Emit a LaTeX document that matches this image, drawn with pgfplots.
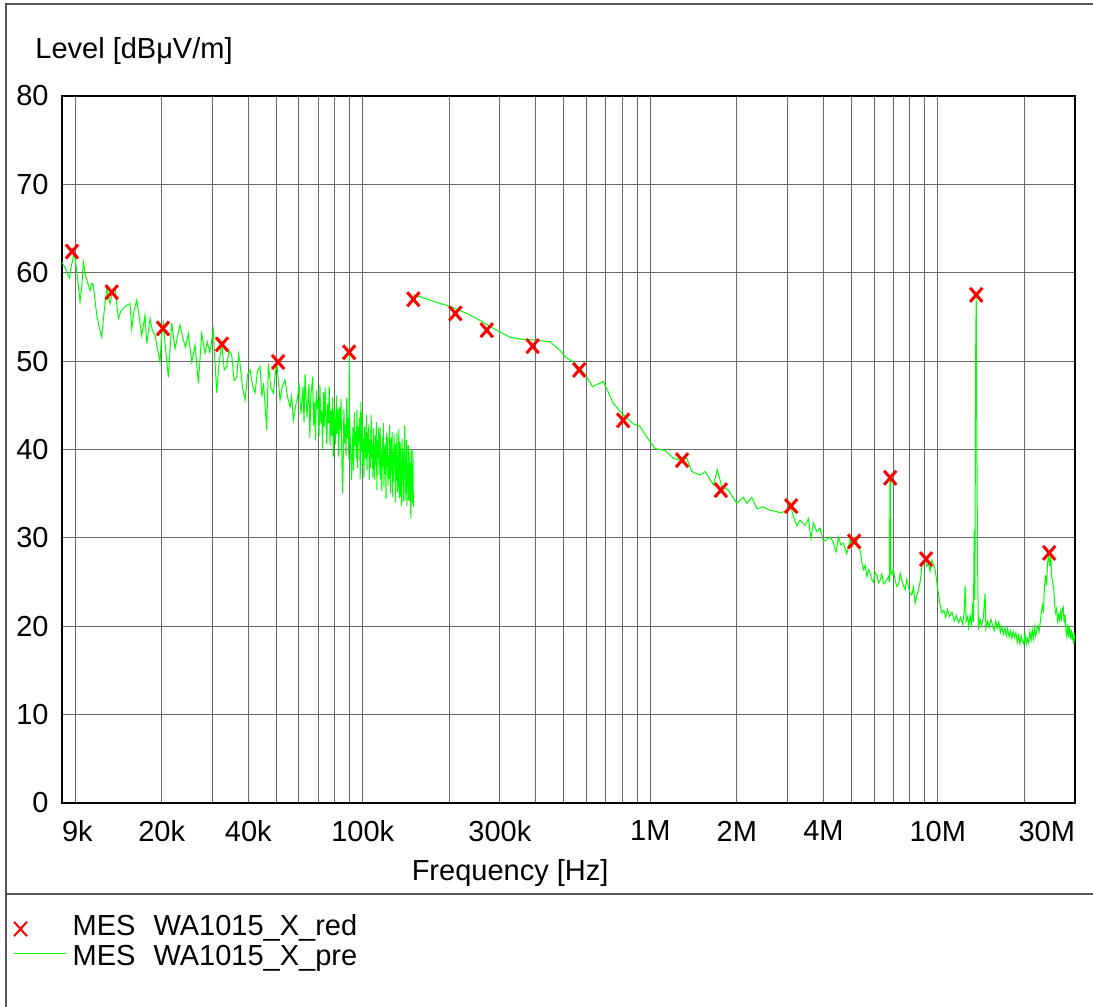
\documentclass[border=0pt]{standalone}
\usepackage{fontspec}
\setmainfont{Liberation Sans}
\usepackage{pgfplots}
\pgfplotsset{compat=1.18}
\definecolor{trace}{RGB}{0,255,0}
\definecolor{markc}{RGB}{255,0,0}
\definecolor{gridc}{RGB}{105,105,105}
\definecolor{framec}{RGB}{85,85,85}
\begin{document}
\fontsize{14.5}{17}\selectfont
\begin{tikzpicture}
\path[use as bounding box] (0,0) rectangle (546.5pt,503.5pt);
\draw[framec, line width=1pt] (3pt,0pt) -- (3pt,501.5pt) -- (546.5pt,501.5pt);
\draw[framec, line width=1pt] (3pt,56.5pt) -- (546.5pt,56.5pt);
\begin{axis}[
  at={(31pt,102pt)}, anchor=south west,
  scale only axis, width=506.5pt, height=353.5pt,
  xmode=log, xmin=9000, xmax=3e7, ymin=0, ymax=80,
  ytick={0,10,20,30,40,50,60,70,80},
  xtick={9000,20000,40000,100000,300000,1000000,2000000,4000000,10000000,30000000},
  xticklabels={\makebox[0pt][l]{9k},20k,40k,100k,300k,1M,2M,4M,10M,\makebox[0pt][r]{30M}},
  minor xtick={10000,20000,30000,40000,50000,60000,70000,80000,90000,
    100000,200000,300000,400000,500000,600000,700000,800000,900000,
    1000000,2000000,3000000,4000000,5000000,6000000,7000000,8000000,9000000,
    10000000,20000000},
  xminorgrids, ymajorgrids, xmajorgrids=false,
  major tick length=0pt, minor tick length=0pt,
  grid style={gridc, line width=0.5pt},
  minor grid style={gridc, line width=0.5pt},
  axis line style={black, line width=0.6pt},
  /pgf/number format/assume math mode=true,
  tick label style={font=\fontsize{14.5}{17}\selectfont},
  yticklabel style={inner sep=0pt, anchor=east, xshift=-6.5pt},
  xticklabel style={inner sep=0pt, anchor=north, yshift=-8.75pt},
  xlabel={Frequency [Hz]},
  xlabel style={at={(axis description cs:0.4423,0)}, anchor=north, inner sep=0pt, yshift=-28pt, font=\fontsize{14.5}{17}\selectfont},
  ylabel={Level [dBμV/m]},
  every axis y label/.style={at={(axis description cs:-0.02665,1.0537)}, anchor=base west, inner sep=0pt, font=\fontsize{14.5}{17}\selectfont},
  reverse legend,
  legend cell align=left,
  legend style={at={(axis description cs:-0.04837,-0.1556)}, anchor=north west,
    draw=none, fill=none, inner sep=0pt, outer sep=0pt,
    font=\fontsize{14.5}{17}\selectfont,
    nodes={inner sep=0pt, text height=11pt, text depth=4pt, anchor=west},
    column sep=3.35pt, row sep=0pt},
]
% band A 9 kHz - 150 kHz
\addplot[trace, line width=0.5pt, forget plot] coordinates {
(9000,61.2) (9250,60.5) (9542,59.4) (9700,60.8) (9932,62.2) (10150,60.0) (10396,56.7) (10550,58.5)
(10674,61.2) (10900,59.5) (11263,58.0) (11400,58.8) (11565,58.6) (11884,55.2) (12100,54.0) (12369,52.7)
(12600,55.5) (12874,58.2) (13050,57.3) (13219,56.5) (13435,57.7) (13759,58.4) (14128,54.8) (14400,55.6)
(14705,56.0) (15100,56.3) (15516,56.5) (15729,53.7) (16050,55.8) (16371,56.9) (16700,55.0) (17041,52.9)
(17497,55.2) (17736,52.0) (18212,54.8) (18550,53.5) (18955,52.9) (19300,51.5) (19730,49.9) (20000,53.0)
(20259,54.3) (20600,51.5) (21089,48.2) (21671,54.3) (22252,51.4) (22700,52.8) (23159,54.1) (23779,52.4)
(24200,51.6) (24750,53.1) (25434,49.9) (26116,51.8) (26816,47.5) (27555,53.1) (28293,50.9) (28800,52.2)
(29400,51.0) (30228,53.5) (31063,46.4) (31600,49.5) (32332,52.0) (33000,49.0) (33653,49.4) (34300,51.2)
(35029,50.7) (35700,47.8) (36462,48.2) (37000,50.8) (37439,49.7) (38200,47.0) (38971,45.6) (39800,48.5)
(40564,49.0) (41400,47.2) (42222,46.4) (43000,48.8) (43948,49.4) (44600,46.0) (45200,47.5) (46371,42.2)
(46968,49.7) (47900,47.0) (48884,46.4) (49600,48.4) (50234,50.1) (50800,48.0) (51579,45.6) (52600,47.2)
(53687,47.9) (54800,45.9) (55882,44.8) (56600,46.0) (57381,43.3) (58500,45.0) (59725,46.4)
(60.0e3,47.6) (61.0e3,44.0) (62.0e3,47.1) (62.5e3,43.1) (63.0e3,48.5) (64.0e3,43.7)
(65.0e3,47.4) (65.5e3,41.3) (66.0e3,46.0) (67.0e3,48.2) (67.5e3,42.7) (68.0e3,45.4) (68.5e3,41.0) (69.0e3,46.7) (69.5e3,44.6)
(70.0e3,45.6) (70.5e3,41.5) (71.0e3,47.3) (71.5e3,43.0) (72.0e3,44.4) (72.5e3,40.1) (73.0e3,46.5) (73.5e3,42.6) (74.0e3,47.0) (74.5e3,43.5)
(75.0e3,40.6) (75.5e3,45.2) (76.0e3,43.0) (76.5e3,47.1) (77.0e3,40.5) (77.5e3,44.4) (78.0e3,41.6) (78.5e3,45.9) (79.0e3,39.2) (79.5e3,44.6)
(80.0e3,43.2) (80.5e3,40.6) (81.0e3,46.1) (81.5e3,41.8) (82.0e3,44.6) (82.5e3,39.2) (83.0e3,44.8) (83.5e3,42.2) (84.0e3,45.7) (84.5e3,40.2)
(85.0e3,35.0) (85.5e3,38.1) (86.0e3,44.6) (86.5e3,40.7) (87.0e3,42.8) (87.5e3,39.3) (88.0e3,45.8) (88.5e3,41.3) (89.0e3,43.6) (89.5e3,38.8)
(89.7e3,42.5) (89.8e3,50.9) (89.9e3,41.8)
(90.0e3,43.7) (90.5e3,41.2) (91.0e3,39.0) (91.5e3,36.5) (92.0e3,39.8) (92.5e3,42.5) (93.0e3,37.6) (93.5e3,44.2) (94.0e3,40.4) (94.5e3,42.0)
(95.0e3,39.0) (95.5e3,44.5) (96.0e3,37.9) (96.5e3,42.6) (97.0e3,40.9) (97.5e3,43.6) (98.0e3,36.6) (98.5e3,45.4) (99.0e3,39.7) (99.5e3,44.2)
(100.0e3,38.2) (100.5e3,41.3) (101.0e3,36.8) (101.5e3,42.6) (102.0e3,40.5) (102.5e3,38.9) (103.0e3,43.9) (103.5e3,37.6) (104.0e3,41.9) (104.5e3,39.6)
(105.0e3,42.8) (105.5e3,36.6) (106.0e3,41.1) (106.5e3,37.9) (107.0e3,43.9) (107.5e3,39.0) (108.0e3,40.6) (108.5e3,36.8) (109.0e3,42.4) (109.5e3,38.2)
(110.0e3,36.6) (110.5e3,41.6) (111.0e3,38.3) (111.5e3,43.1) (112.0e3,35.4) (112.5e3,41.1) (113.0e3,39.0) (113.5e3,42.5) (114.0e3,37.1) (114.5e3,40.5)
(115.0e3,42.5) (115.5e3,36.6) (116.0e3,39.7) (116.5e3,35.3) (117.0e3,41.4) (117.5e3,38.1) (118.0e3,43.0) (118.5e3,35.8) (119.0e3,40.2) (119.5e3,37.2)
(120.0e3,40.7) (120.5e3,34.4) (121.0e3,41.9) (121.5e3,38.1) (122.0e3,41.4) (122.5e3,35.9) (123.0e3,39.3) (123.5e3,36.7) (124.0e3,42.8) (124.5e3,37.4)
(125.0e3,35.0) (125.5e3,41.3) (126.0e3,37.6) (126.5e3,42.0) (127.0e3,34.6) (127.5e3,39.8) (128.0e3,36.3) (128.5e3,41.7) (129.0e3,38.1) (129.5e3,40.5)
(130.0e3,34.0) (130.5e3,40.7) (131.0e3,36.5) (131.5e3,41.9) (132.0e3,35.2) (132.5e3,39.1) (133.0e3,35.7) (133.5e3,42.3) (134.0e3,34.5) (134.5e3,39.8)
(135.0e3,40.9) (135.5e3,34.7) (136.0e3,38.9) (136.5e3,33.6) (137.0e3,41.2) (137.5e3,36.5) (138.0e3,39.8) (138.5e3,34.1) (139.0e3,40.2) (139.5e3,37.2)
(140.0e3,42.7) (140.5e3,34.2) (141.0e3,39.2) (141.5e3,35.0) (142.0e3,41.1) (142.5e3,33.6) (143.0e3,38.4) (143.5e3,35.9) (144.0e3,40.5) (144.5e3,34.3)
(145.0e3,39.7) (145.5e3,34.2) (146.0e3,38.5) (146.5e3,35.5) (147.0e3,32.2) (147.5e3,39.9) (148.0e3,35.1) (148.5e3,38.2) (149.0e3,33.9) (149.5e3,39.9) (150.0e3,33.5)
};
% band B 150 kHz - 30 MHz
\addplot[trace, line width=0.5pt,
  legend image code/.code={\draw[trace, line width=0.5pt] (0pt,2.5pt) -- (26pt,2.5pt);}] coordinates {
(150e3,57.5) (165e3,57.1) (178.5e3,56.7) (201e3,56.2) (230e3,55.4) (256e3,54.6) (285e3,53.7) (325e3,52.7)
(353e3,52.5) (392e3,52.4) (420e3,52.3) (448e3,52.2) (486e3,51.2) (506e3,50.5) (540e3,49.9) (570e3,49.2)
(602e3,48.2) (629e3,47.1) (687e3,47.7) (745e3,45.2) (806e3,43.9) (874e3,42.9) (922e3,42.6) (973e3,41.4)
(1.039e6,40.1) (1.126e6,39.9) (1.204e6,39.0) (1.27e6,38.8) (1.34e6,39.0) (1.395e6,37.5) (1.49e6,37.1) (1.552e6,37.5)
(1.658e6,36.0) (1.712e6,37.7) (1.773e6,35.8) (1.87e6,35.4) (2.0e6,33.9) (2.109e6,34.6) (2.167e6,33.9) (2.255e6,34.6)
(2.348e6,33.3) (2.475e6,33.5) (2.611e6,33.1) (2.755e6,33.0) (2.829e6,32.8) (2.99e6,33.1) (3.065e6,33.9) (3.147e6,32.4)
(3.234e6,31.4) (3.321e6,32.0) (3.457e6,31.4) (3.55e6,32.2) (3.618e6,29.9) (3.694e6,31.7) (3.796e6,30.7) (3.898e6,31.1)
(4.0e6,29.6) (4.112e6,29.8) (4.222e6,30.1) (4.33e6,29.5) (4.43e6,28.4) (4.512e6,30.1) (4.6e6,29.2) (4.696e6,29.4)
(4.826e6,28.2) (4.955e6,29.8) (5.05e6,29.1) (5.158e6,30.1) (5.26e6,29.3) (5.369e6,28.6) (5.44e6,27.3) (5.513e6,26.4)
(5.59e6,26.9) (5.665e6,25.6) (5.74e6,26.4) (5.817e6,26.0) (5.89e6,25.3) (5.972e6,25.0) (6.05e6,26.1) (6.137e6,25.8)
(6.22e6,24.9) (6.302e6,25.2) (6.39e6,25.9) (6.471e6,24.8) (6.6e6,25.1) (6.736e6,25.6) (6.79e6,25.0) (6.815e6,36.7)
(6.85e6,36.6) (6.875e6,25.9) (6.921e6,25.8) (7.0e6,26.4) (7.107e6,25.2) (7.2e6,24.5) (7.297e6,24.7) (7.4e6,26.0)
(7.499e6,25.2) (7.6e6,24.6) (7.7e6,24.1) (7.8e6,25.3) (7.906e6,24.5) (8.0e6,23.8) (8.124e6,23.5) (8.23e6,24.4)
(8.342e6,22.6) (8.45e6,23.5) (8.566e6,24.1) (8.68e6,25.0) (8.802e6,26.7) (8.92e6,27.2) (9.036e6,27.8) (9.15e6,26.8)
(9.278e6,27.1) (9.4e6,26.2) (9.534e6,27.5) (9.66e6,27.0) (9.79e6,26.4) (9.92e6,25.0) (10.05e6,23.7) (10.2e6,22.3)
(10.33e6,21.5) (10.5e6,21.8) (10.65e6,21.0) (10.8e6,21.9) (11.0e6,21.1) (11.2e6,21.6) (11.4e6,20.6) (11.6e6,21.2)
(11.8e6,20.4) (12.0e6,21.0) (12.2e6,20.2) (12.35e6,21.5) (12.45e6,24.6) (12.55e6,20.6) (12.7e6,21.1) (12.8e6,19.9)
(12.95e6,21.2) (13.1e6,20.0) (13.2e6,22.6) (13.3e6,20.5) (13.38e6,30.9) (13.45e6,23.0) (13.55e6,52.0) (13.6e6,57.5)
(13.65e6,45.0) (13.7e6,35.4) (13.78e6,24.0) (13.85e6,19.6) (14.0e6,20.8) (14.2e6,20.1) (14.4e6,21.0) (14.6e6,23.7)
(14.7e6,19.7) (14.9e6,20.6) (15.1e6,19.9) (15.3e6,20.8) (15.5e6,20.1) (15.7e6,19.5) (15.9e6,20.6) (16.1e6,19.8)
(16.3e6,20.5) (16.5e6,19.3) (16.7e6,20.0) (16.9e6,19.1) (17.1e6,19.8) (17.3e6,18.9) (17.5e6,19.7) (17.7e6,18.8)
(17.9e6,19.5) (18.1e6,18.6) (18.3e6,19.4) (18.5e6,18.7) (18.7e6,19.3) (18.9e6,18.2) (19.1e6,19.0) (19.3e6,18.0)
(19.5e6,18.9) (19.7e6,18.3) (19.9e6,18.0) (20.1e6,19.1) (20.3e6,17.9) (20.5e6,18.6) (20.7e6,18.1) (20.9e6,19.4)
(21.1e6,18.4) (21.3e6,19.6) (21.5e6,18.6) (21.7e6,19.9) (21.9e6,18.9) (22.1e6,19.5) (22.3e6,20.1) (22.5e6,19.4)
(22.7e6,20.4) (22.9e6,21.5) (23.1e6,22.4) (23.3e6,21.8) (23.5e6,24.5) (23.7e6,25.8) (23.9e6,24.6) (24.1e6,27.3)
(24.3e6,28.1) (24.5e6,26.8) (24.7e6,27.9) (24.9e6,25.6) (25.1e6,25.0) (25.3e6,24.2) (25.5e6,22.4) (25.7e6,21.5)
(25.9e6,22.0) (26.1e6,20.6) (26.3e6,21.3) (26.5e6,20.7) (26.7e6,21.6) (26.9e6,20.9) (27.1e6,22.0) (27.3e6,22.2)
(27.5e6,20.4) (27.7e6,21.3) (27.9e6,19.5) (28.1e6,18.8) (28.3e6,20.2) (28.5e6,19.1) (28.7e6,19.9) (28.9e6,18.6)
(29.1e6,19.6) (29.3e6,18.4) (29.5e6,19.3) (29.7e6,18.0) (29.9e6,18.9) (30.0e6,18.6)
};
\addlegendentry{MES\hspace{0.62em}WA1015\_X\_pre}
% final measurement points
\addplot[only marks, mark=x, mark size=4.3pt, mark options={markc, line width=1.5pt, yscale=1.15},
  legend image code/.code={\draw[mark=x, mark size=4.6pt, mark options={markc, line width=1.0pt, yscale=1.1}, only marks] plot coordinates {(3.5pt,-0.5pt)}; \path (0pt,0pt) (26pt,0pt);}]
coordinates {
(9750,62.4) (13.4e3,57.8) (20.2e3,53.7) (32.4e3,51.9) (50.8e3,49.9) (89.7e3,51.0) (150e3,57.0)
(210e3,55.4) (270e3,53.5) (390e3,51.7) (566e3,49.0) (805e3,43.3) (1.29e6,38.8) (1.76e6,35.4)
(3.09e6,33.6) (5.12e6,29.6) (6.83e6,36.8) (9.1e6,27.6) (13.6e6,57.5) (24.4e6,28.3)
};
\addlegendentry{MES\hspace{0.62em}WA1015\_X\_red}
\end{axis}
\end{tikzpicture}
\end{document}
